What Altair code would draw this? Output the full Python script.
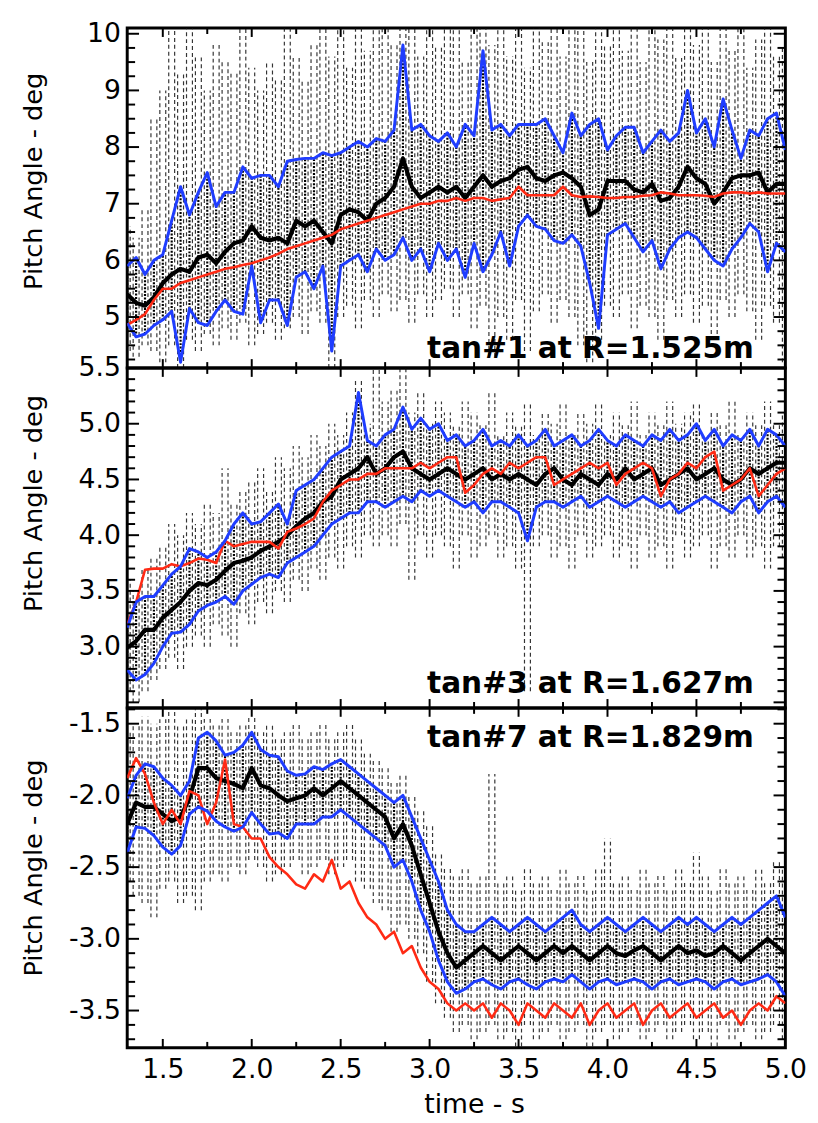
import altair as alt
import pandas as pd

# ---------------- data ----------------
times = [round(1.30 + 0.05 * i, 2) for i in range(75)]

# panel 1 : tan#1
black1 = [5.40, 5.25, 5.20, 5.35, 5.60, 5.75, 5.85, 5.80, 6.05, 6.10,
          5.95, 6.15, 6.30, 6.35, 6.60, 6.40, 6.35, 6.40, 6.30, 6.70,
          6.60, 6.70, 6.50, 6.30, 6.80, 6.90, 6.85, 6.70, 7.00, 7.10,
          7.30, 7.80, 7.30, 7.10, 7.20, 7.30, 7.20, 7.30, 7.10, 7.30,
          7.50, 7.30, 7.40, 7.45, 7.60, 7.65, 7.45, 7.40, 7.50, 7.55,
          7.45, 7.30, 6.80, 6.90, 7.40, 7.40, 7.40, 7.25, 7.20, 7.35,
          7.05, 7.10, 7.30, 7.65, 7.45, 7.35, 7.00, 7.20, 7.45, 7.50,
          7.50, 7.55, 7.20, 7.35, 7.35]
bhi1 = [5.90, 6.05, 5.75, 6.00, 6.10, 6.70, 7.30, 6.80, 7.20, 7.55,
        6.95, 7.20, 7.20, 7.65, 7.45, 7.50, 7.50, 7.30, 7.75, 7.78,
        7.80, 7.80, 7.90, 7.85, 7.90, 8.00, 8.10, 8.00, 8.15, 8.10,
        8.30, 9.80, 8.30, 8.40, 8.20, 8.10, 8.25, 8.00, 8.40, 8.20,
        9.70, 8.30, 8.40, 8.20, 8.40, 8.40, 8.40, 8.50, 8.20, 7.90,
        8.60, 8.20, 8.40, 8.50, 7.95, 8.20, 8.35, 8.35, 7.90, 8.10,
        8.30, 8.10, 8.25, 9.00, 8.25, 8.50, 8.00, 8.85, 8.30, 7.80,
        8.30, 8.20, 8.50, 8.60, 7.95]
blo1 = [4.89, 4.65, 4.70, 4.85, 4.95, 5.10, 4.20, 5.15, 4.90, 4.85,
        5.10, 5.30, 5.10, 5.05, 5.90, 4.90, 5.30, 5.30, 4.85, 5.70,
        5.80, 5.50, 5.90, 4.40, 5.90, 6.00, 6.10, 5.80, 6.20, 6.00,
        6.10, 6.40, 6.00, 6.20, 5.80, 6.30, 6.00, 6.20, 5.70, 6.30,
        5.80, 6.10, 6.50, 5.90, 6.60, 6.80, 6.60, 6.55, 6.35, 6.30,
        6.45, 6.25, 5.60, 4.80, 6.45, 6.55, 6.65, 6.40, 6.15, 6.35,
        5.85, 6.20, 6.40, 6.50, 6.40, 6.20, 6.00, 5.90, 6.20, 6.40,
        6.65, 6.50, 5.80, 6.30, 6.15]
red1 = [4.86, 4.95, 5.05, 5.30, 5.50, 5.50, 5.60, 5.65, 5.70, 5.75,
        5.80, 5.85, 5.88, 5.92, 5.95, 6.00, 6.05, 6.12, 6.20, 6.25,
        6.30, 6.35, 6.40, 6.45, 6.55, 6.60, 6.65, 6.70, 6.75, 6.80,
        6.85, 6.90, 6.95, 7.00, 7.00, 7.05, 7.05, 7.10, 7.05, 7.10,
        7.10, 7.05, 7.08, 7.10, 7.30, 7.15, 7.15, 7.15, 7.15, 7.30,
        7.15, 7.12, 7.13, 7.12, 7.10, 7.10, 7.12, 7.12, 7.14, 7.15,
        7.20, 7.18, 7.15, 7.15, 7.15, 7.14, 7.12, 7.18, 7.20, 7.20,
        7.18, 7.20, 7.18, 7.18, 7.18]
rhi1 = [6.6, 6.4, 6.9, 8.5, 9.0, 10.1, 9.3, 10.1, 9.6, 9.0,
        9.8, 9.5, 9.3, 10.1, 9.4, 9.0, 9.5, 9.2, 10.1, 9.6,
        9.2, 9.8, 10.1, 9.6, 10.1, 9.4, 10.1, 9.7, 10.1, 10.1,
        9.8, 10.1, 10.1, 9.6, 10.1, 9.8, 10.1, 10.1, 9.5, 10.1,
        10.1, 9.8, 10.1, 9.6, 10.1, 9.4, 10.1, 9.9, 10.1, 9.6,
        10.1, 10.1, 9.5, 10.1, 9.8, 10.1, 9.7, 10.1, 9.5, 10.1,
        9.9, 10.1, 9.6, 10.1, 9.8, 10.1, 9.5, 10.1, 9.7, 10.1,
        9.4, 9.9, 10.1, 9.6, 9.8]
rlo1 = [4.4, 4.3, 4.5, 4.4, 4.2, 4.5, 4.1, 4.6, 4.4, 4.7,
        4.5, 4.8, 4.6, 4.9, 4.5, 4.7, 4.9, 4.6, 4.8, 5.0,
        4.7, 5.1, 4.9, 4.1, 5.0, 5.2, 4.8, 5.3, 5.0, 5.4,
        5.1, 5.3, 4.9, 5.4, 5.0, 5.3, 5.5, 5.0, 5.4, 4.8,
        5.2, 4.3, 5.0, 4.6, 5.3, 4.4, 5.1, 5.4, 4.9, 5.3,
        5.0, 4.5, 4.2, 4.6, 5.2, 5.0, 5.4, 4.8, 5.2, 5.0,
        4.6, 5.3, 5.0, 5.4, 4.9, 5.2, 4.7, 5.3, 5.0, 5.4,
        5.1, 4.6, 5.2, 4.9, 4.2]

# panel 2 : tan#3
black2 = [2.99, 3.05, 3.15, 3.15, 3.26, 3.33, 3.40, 3.50, 3.57, 3.55,
          3.60, 3.68, 3.75, 3.77, 3.80, 3.86, 3.90, 3.94, 4.00, 4.08,
          4.15, 4.20, 4.30, 4.35, 4.50, 4.55, 4.60, 4.70, 4.55, 4.60,
          4.70, 4.75, 4.60, 4.55, 4.50, 4.55, 4.60, 4.55, 4.50, 4.55,
          4.60, 4.50, 4.55, 4.50, 4.55, 4.50, 4.45, 4.55, 4.60, 4.50,
          4.45, 4.55, 4.50, 4.45, 4.55, 4.50, 4.60, 4.50, 4.55, 4.60,
          4.45, 4.50, 4.55, 4.60, 4.50, 4.55, 4.60, 4.50, 4.45, 4.50,
          4.60, 4.55, 4.60, 4.65, 4.65]
bhi2 = [3.17, 3.40, 3.45, 3.45, 3.55, 3.65, 3.72, 3.88, 3.85, 3.80,
        3.85, 3.95, 4.10, 4.20, 4.10, 4.12, 4.20, 4.28, 4.10, 4.40,
        4.45, 4.50, 4.60, 4.70, 4.75, 4.80, 5.28, 4.85, 4.80, 4.90,
        4.95, 5.15, 4.95, 5.05, 4.95, 5.00, 4.85, 4.90, 4.80, 4.85,
        4.95, 4.80, 4.85, 4.80, 4.90, 4.80, 4.85, 4.95, 4.80, 4.85,
        4.90, 4.80, 4.85, 4.95, 4.85, 4.80, 4.90, 4.85, 4.80, 4.90,
        4.85, 4.95, 4.85, 4.90, 5.00, 4.85, 4.95, 4.80, 4.90, 4.85,
        4.95, 4.80, 4.95, 4.90, 4.80]
blo2 = [2.79, 2.70, 2.75, 2.85, 3.00, 3.12, 3.13, 3.20, 3.32, 3.37,
        3.40, 3.45, 3.38, 3.50, 3.56, 3.62, 3.65, 3.62, 3.75, 3.80,
        3.85, 3.90, 4.00, 4.10, 4.15, 4.20, 4.20, 4.30, 4.30, 4.25,
        4.30, 4.35, 4.30, 4.40, 4.35, 4.40, 4.35, 4.30, 4.25, 4.30,
        4.20, 4.30, 4.30, 4.25, 4.20, 3.95, 4.25, 4.30, 4.30, 4.25,
        4.30, 4.35, 4.25, 4.30, 4.35, 4.30, 4.25, 4.30, 4.35, 4.30,
        4.25, 4.30, 4.20, 4.25, 4.30, 4.35, 4.30, 4.25, 4.20, 4.30,
        4.35, 4.20, 4.30, 4.35, 4.25]
red2 = [3.20, 3.40, 3.69, 3.70, 3.70, 3.74, 3.72, 3.75, 3.79, 3.78,
        3.75, 3.95, 3.90, 3.92, 3.94, 3.94, 3.94, 3.88, 4.03, 4.06,
        4.10, 4.15, 4.30, 4.40, 4.45, 4.50, 4.50, 4.55, 4.55, 4.60,
        4.60, 4.60, 4.60, 4.65, 4.60, 4.65, 4.70, 4.70, 4.38, 4.45,
        4.55, 4.60, 4.55, 4.65, 4.60, 4.65, 4.70, 4.70, 4.45, 4.50,
        4.55, 4.60, 4.65, 4.60, 4.65, 4.45, 4.55, 4.60, 4.65, 4.60,
        4.35, 4.50, 4.55, 4.65, 4.60, 4.70, 4.75, 4.40, 4.45, 4.50,
        4.60, 4.35, 4.45, 4.55, 4.60]
rhi2 = [3.6, 3.5, 3.7, 3.8, 3.9, 4.1, 4.0, 4.2, 4.1, 4.3,
        4.2, 4.6, 4.3, 4.4, 4.5, 4.6, 4.4, 4.7, 4.6, 4.8,
        4.7, 4.9, 4.8, 5.0, 4.9, 5.1, 5.4, 5.0, 5.5, 5.2,
        5.3, 5.5, 5.1, 5.3, 5.0, 5.2, 5.1, 5.0, 5.2, 5.1,
        5.0, 5.3, 4.9, 5.1, 5.0, 5.2, 4.9, 5.1, 5.0, 5.2,
        4.9, 5.1, 5.0, 5.2, 4.9, 5.1, 5.0, 5.2, 4.9, 5.1,
        5.0, 5.2, 5.0, 5.1, 5.2, 4.9, 5.1, 5.0, 5.2, 4.9,
        5.1, 5.0, 5.2, 5.0, 5.1]
rlo2 = [2.6, 2.5, 2.6, 2.7, 2.8, 2.9, 2.8, 3.0, 3.1, 3.0,
        3.2, 3.1, 3.0, 3.3, 3.2, 3.4, 3.3, 3.5, 3.4, 3.6,
        3.5, 3.7, 3.6, 3.8, 3.7, 3.9, 3.8, 4.0, 3.9, 4.0,
        3.9, 4.1, 3.6, 4.0, 3.8, 4.0, 3.9, 3.7, 4.0, 3.8,
        3.9, 4.0, 3.8, 3.9, 3.7, 2.6, 3.9, 4.0, 3.8, 3.9,
        3.7, 4.0, 3.8, 3.9, 4.0, 3.8, 3.9, 3.7, 4.0, 3.8,
        3.9, 3.7, 4.0, 3.8, 3.9, 4.0, 3.7, 3.9, 3.8, 4.0,
        3.8, 3.9, 3.7, 3.9, 3.8]

# panel 3 : tan#7
black3 = [-2.20, -2.05, -2.08, -2.08, -2.13, -2.18, -2.15, -2.02, -1.81, -1.81,
          -1.88, -1.90, -1.92, -1.95, -1.81, -1.93, -1.95, -2.00, -2.04, -2.02,
          -2.00, -1.95, -2.00, -1.95, -1.90, -1.95, -2.00, -2.05, -2.10, -2.15,
          -2.30, -2.20, -2.35, -2.55, -2.75, -2.95, -3.10, -3.20, -3.15, -3.10,
          -3.05, -3.10, -3.15, -3.10, -3.05, -3.10, -3.15, -3.10, -3.05, -3.10,
          -3.05, -3.10, -3.15, -3.10, -3.05, -3.10, -3.12, -3.08, -3.05, -3.10,
          -3.15, -3.10, -3.05, -3.10, -3.08, -3.12, -3.10, -3.05, -3.10, -3.15,
          -3.10, -3.05, -3.00, -3.05, -3.10]
bhi3 = [-2.02, -1.86, -1.78, -1.80, -1.88, -1.93, -2.00, -1.90, -1.60, -1.56,
        -1.62, -1.72, -1.70, -1.65, -1.56, -1.68, -1.72, -1.73, -1.83, -1.86,
        -1.85, -1.80, -1.82, -1.78, -1.75, -1.80, -1.85, -1.90, -1.95, -2.00,
        -2.05, -2.00, -2.15, -2.30, -2.45, -2.60, -2.80, -2.90, -2.95, -2.95,
        -2.90, -2.85, -2.90, -2.95, -2.90, -2.85, -2.90, -2.95, -2.90, -2.85,
        -2.80, -2.90, -2.95, -2.90, -2.85, -2.90, -2.95, -2.90, -2.85, -2.90,
        -2.95, -2.90, -2.85, -2.90, -2.85, -2.90, -2.95, -2.90, -2.85, -2.90,
        -2.85, -2.80, -2.75, -2.70, -2.85]
blo3 = [-2.40, -2.22, -2.23, -2.28, -2.36, -2.41, -2.35, -2.13, -2.08, -2.11,
        -2.18, -2.22, -2.25, -2.22, -2.12, -2.20, -2.27, -2.26, -2.30, -2.20,
        -2.20, -2.20, -2.15, -2.15, -2.10, -2.15, -2.20, -2.25, -2.30, -2.35,
        -2.50, -2.45, -2.60, -2.80, -2.95, -3.15, -3.30, -3.38, -3.35, -3.30,
        -3.28, -3.32, -3.35, -3.30, -3.28, -3.32, -3.35, -3.30, -3.28, -3.30,
        -3.25, -3.30, -3.35, -3.30, -3.28, -3.32, -3.30, -3.28, -3.30, -3.35,
        -3.30, -3.28, -3.32, -3.30, -3.28, -3.30, -3.35, -3.30, -3.28, -3.32,
        -3.30, -3.28, -3.25, -3.30, -3.40]
red3 = [-1.88, -1.74, -1.85, -2.05, -2.20, -2.10, -2.20, -1.97, -2.00, -2.20,
        -2.05, -1.75, -2.20, -2.22, -2.30, -2.30, -2.43, -2.50, -2.55, -2.62,
        -2.65, -2.55, -2.60, -2.45, -2.65, -2.60, -2.75, -2.85, -2.90, -3.00,
        -2.95, -3.10, -3.05, -3.20, -3.30, -3.35, -3.45, -3.50, -3.45, -3.50,
        -3.45, -3.55, -3.45, -3.50, -3.60, -3.45, -3.50, -3.55, -3.45, -3.50,
        -3.55, -3.45, -3.60, -3.50, -3.45, -3.55, -3.50, -3.45, -3.60, -3.50,
        -3.45, -3.55, -3.50, -3.45, -3.55, -3.50, -3.45, -3.55, -3.50, -3.60,
        -3.50, -3.45, -3.50, -3.40, -3.45]
rhi3 = [-1.55, -1.50, -1.45, -1.50, -1.45, -1.40, -1.50, -1.45, -1.40, -1.45,
        -1.50, -1.45, -1.55, -1.50, -1.45, -1.55, -1.50, -1.60, -1.55, -1.50,
        -1.60, -1.55, -1.50, -1.60, -1.55, -1.50, -1.60, -1.70, -1.75, -1.80,
        -1.90, -1.85, -2.00, -2.10, -2.20, -2.40, -2.50, -2.55, -2.50, -2.60,
        -2.55, -1.85, -2.60, -2.55, -2.65, -2.50, -2.60, -2.55, -2.65, -2.50,
        -2.60, -2.55, -2.65, -2.50, -2.30, -2.60, -2.55, -2.65, -2.50, -2.60,
        -2.55, -2.65, -2.50, -2.60, -2.40, -2.55, -2.65, -2.50, -2.60, -2.55,
        -2.65, -2.50, -2.60, -2.45, -2.50]
rlo3 = [-2.60, -2.70, -2.75, -2.85, -2.65, -2.60, -2.75, -2.70, -2.80, -2.60,
        -2.55, -2.60, -2.50, -2.55, -2.45, -2.50, -2.60, -2.55, -2.50, -2.45,
        -2.55, -2.50, -2.45, -2.55, -2.50, -2.45, -2.60, -2.65, -2.75, -2.80,
        -2.95, -2.90, -3.00, -3.10, -3.30, -3.45, -3.55, -3.65, -3.60, -3.70,
        -3.65, -3.60, -3.70, -3.65, -3.75, -3.60, -3.70, -3.65, -3.60, -3.70,
        -3.65, -3.60, -3.75, -3.65, -3.60, -3.70, -3.65, -3.60, -3.70, -3.65,
        -3.60, -3.70, -3.65, -3.60, -3.70, -3.65, -3.75, -3.60, -3.70, -3.65,
        -3.60, -3.70, -3.65, -3.60, -3.70]

# axis labels / ticks
x_labels = [1.5, 2.0, 2.5, 3.0, 3.5, 4.0, 4.5, 5.0]
x_major_ticks = [1.5, 2.0, 2.5, 3.0, 3.5, 4.0, 4.5]
x_minor_ticks = [1.75, 2.25, 2.75, 3.25, 3.75, 4.25, 4.75]

y1_labels = [5, 6, 7, 8, 9, 10]
y1_minor = [round(4.25 + 0.25 * i, 2) for i in range(24)]
y2_labels = [3.0, 3.5, 4.0, 4.5, 5.0, 5.5]
y2_minor = [round(2.5 + 0.1 * i, 2) for i in range(31)]
y3_labels = [-3.5, -3.0, -2.5, -2.0, -1.5]
y3_minor = [round(-3.7 + 0.1 * i, 2) for i in range(24)]

W, H = 668, 345
BLUE = "#1f3dff"
RED = "#ff2a14"
FONT = "DejaVu Sans"


def panel(d, ydom, ylabels, yfmt, yminor, major_step, title_y, label, lab_x, lab_y, show_x):
    df = pd.DataFrame(d)
    xs = alt.Scale(domain=[1.3, 5.0], nice=False, zero=False)
    ys = alt.Scale(domain=ydom, nice=False, zero=False)
    if show_x:
        xaxis = alt.Axis(values=x_labels, format=".1f", ticks=False, domain=False, grid=False,
                         title="time - s", labelFlush=False, labelPadding=9,
                         labelFont=FONT, labelFontSize=27, labelColor="black",
                         titleFont=FONT, titleFontSize=27, titleFontWeight="normal",
                         titleColor="black", titleX=352, titleY=66,
                         titleBaseline="alphabetic", titleAlign="center")
    else:
        xaxis = None
    yaxis = alt.Axis(values=ylabels, format=yfmt, ticks=False, domain=False, grid=False,
                     labelExpr="replace(datum.label, '\u2212', '-')",
                     labelOverlap=False, labelPadding=7, labelFlush=False,
                     labelFont=FONT, labelFontSize=27, labelColor="black",
                     title="Pitch Angle - deg", titleFont=FONT, titleFontSize=26,
                     titleFontWeight="normal", titleColor="black",
                     titleX=-95, titleY=title_y, titleAngle=270,
                     titleBaseline="middle", titleAlign="center")

    X = lambda f: alt.X(f, scale=xs, axis=xaxis)
    Y = lambda f: alt.Y(f, scale=ys, axis=yaxis)

    base = alt.Chart(df)
    layers = []
    # raw (noisy) signal drawn as dashed vertical strokes
    for off in (-3.0, 3.0):
        layers.append(base.mark_rule(color="#111111", strokeWidth=1.2, strokeDash=[4, 3],
                                     clip=True, xOffset=off, opacity=0.85).encode(
            x=X("t:Q"), y=Y("rlo:Q"), y2="rhi:Q"))
    # dense core of the raw signal between the +/- sigma curves
    layers.append(base.mark_rule(color="black", strokeWidth=2.2, strokeDash=[2, 1.5],
                                 clip=True, strokeCap="butt").encode(
        x=X("t:Q"), y=Y("blo:Q"), y2="bhi:Q"))
    layers.append(base.mark_line(color="black", strokeWidth=4.2, clip=True,
                                 strokeJoin="round").encode(x=X("t:Q"), y=Y("black:Q")))
    layers.append(base.mark_line(color=RED, strokeWidth=2.6, clip=True,
                                 strokeJoin="round").encode(x=X("t:Q"), y=Y("red:Q")))
    layers.append(base.mark_line(color=BLUE, strokeWidth=3, clip=True,
                                 strokeJoin="round").encode(x=X("t:Q"), y=Y("bhi:Q")))
    layers.append(base.mark_line(color=BLUE, strokeWidth=3, clip=True,
                                 strokeJoin="round").encode(x=X("t:Q"), y=Y("blo:Q")))

    # inward tick marks on all four sides
    ymaj = [v for v in yminor if abs(round(v / major_step) * major_step - v) < 1e-6]
    ymin = [v for v in yminor if v not in ymaj]
    for vals, ln in ((ymaj, 12), (ymin, 8)):
        tdf = alt.Chart(pd.DataFrame({"v": vals}))
        layers.append(tdf.mark_rule(color="black", strokeWidth=2).encode(
            y=Y("v:Q"), x=alt.value(0), x2=alt.value(ln)))
        layers.append(tdf.mark_rule(color="black", strokeWidth=2).encode(
            y=Y("v:Q"), x=alt.value(W), x2=alt.value(W - ln)))
    for vals, ln in ((x_major_ticks, 9), (x_minor_ticks, 6)):
        tdf = alt.Chart(pd.DataFrame({"v": vals}))
        layers.append(tdf.mark_rule(color="black", strokeWidth=2).encode(
            x=X("v:Q"), y=alt.value(H), y2=alt.value(H - ln)))
        layers.append(tdf.mark_rule(color="black", strokeWidth=2).encode(
            x=X("v:Q"), y=alt.value(0), y2=alt.value(ln)))

    layers.append(alt.Chart(pd.DataFrame({"label": [label]})).mark_text(
        font=FONT, fontSize=30, fontWeight="bold", align="right", baseline="alphabetic",
        color="black").encode(x=alt.value(lab_x), y=alt.value(lab_y), text="label:N"))

    return alt.layer(*layers).properties(width=W, height=H)


p1 = panel(dict(t=times, black=black1, bhi=bhi1, blo=blo1, red=red1, rhi=rhi1, rlo=rlo1),
           [4.1, 10.1], y1_labels, "d", y1_minor, 1.0, 155,
           "tan#1 at R=1.525m", 636, 335, False)
p2 = panel(dict(t=times, black=black2, bhi=bhi2, blo=blo2, red=red2, rhi=rhi2, rlo=rlo2),
           [2.45, 5.5], y2_labels, ".1f", y2_minor, 0.5, 137,
           "tan#3 at R=1.627m", 636, 330, False)
p3 = panel(dict(t=times, black=black3, bhi=bhi3, blo=blo3, red=red3, rhi=rhi3, rlo=rlo3),
           [-3.76, -1.39], y3_labels, ".1f", y3_minor, 0.5, 162,
           "tan#7 at R=1.829m", 636, 40, True)

chart = alt.vconcat(p1, p2, p3, spacing=0, bounds="flush").properties(
    padding={"left": 11, "top": 2, "right": 2, "bottom": 2},
    background="white",
).configure_view(stroke="black", strokeWidth=3)

chart.save("out.html", embed_options={"renderer": "svg", "actions": False})
